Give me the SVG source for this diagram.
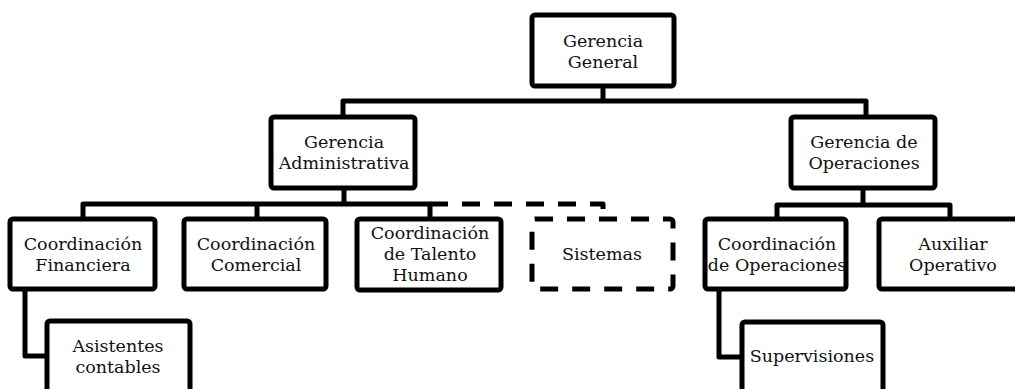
<svg xmlns="http://www.w3.org/2000/svg" width="1015" height="389" viewBox="0 0 1015 389">
  <style>
    .box { fill: #fff; stroke: #000; stroke-width: 5; }
    .dash { stroke-dasharray: 18 14; }
    .wire { fill: none; stroke: #000; stroke-width: 5; stroke-linejoin: round; }
    text { font-family: "DejaVu Serif", "Liberation Serif", serif; font-size: 17.5px; fill: #111; text-anchor: middle; }
  </style>
  <rect width="1015" height="389" fill="#fff"/>

  <!-- connectors -->
  <g id="connectors">
    <path class="wire" d="M603 88 V101 M343 115 V101 H866 V115"/>
    <path class="wire" d="M344 190 V204 M83 217 V204 H430 V217 M257 217 V204"/>
    <path class="wire dash" d="M430 204 H603 V217"/>
    <path class="wire" d="M863 190 V205 M777 217 V205 H950 V217"/>
    <path class="wire" d="M25 290 V356 H46"/>
    <path class="wire" d="M719 290 V357 H741"/>
  </g>

  <g id="gerencia-general">
    <rect class="box" x="532" y="15" width="142" height="71" rx="3"/>
    <text x="603" y="47">Gerencia</text>
    <text x="603" y="68">General</text>
  </g>

  <g id="gerencia-administrativa">
    <rect class="box" x="271" y="117" width="144" height="71" rx="3"/>
    <text x="344" y="148">Gerencia</text>
    <text x="344" y="169">Administrativa</text>
  </g>

  <g id="gerencia-operaciones">
    <rect class="box" x="791" y="117" width="144" height="71" rx="3"/>
    <text x="864" y="148">Gerencia de</text>
    <text x="864" y="169">Operaciones</text>
  </g>

  <g id="coordinacion-financiera">
    <rect class="box" x="10" y="219" width="145" height="70" rx="3"/>
    <text x="83" y="250">Coordinación</text>
    <text x="83" y="271">Financiera</text>
  </g>

  <g id="coordinacion-comercial">
    <rect class="box" x="184" y="219" width="142" height="70" rx="3"/>
    <text x="256" y="250">Coordinación</text>
    <text x="256" y="271">Comercial</text>
  </g>

  <g id="coordinacion-talento-humano">
    <rect class="box" x="357" y="219" width="144" height="71" rx="3"/>
    <text x="430" y="239">Coordinación</text>
    <text x="430" y="260">de Talento</text>
    <text x="430" y="281">Humano</text>
  </g>

  <g id="sistemas">
    <rect class="box dash" x="532" y="219" width="141" height="70" rx="3"/>
    <text x="602" y="260">Sistemas</text>
  </g>

  <g id="coordinacion-operaciones">
    <rect class="box" x="705" y="219" width="141" height="70" rx="3"/>
    <text x="777" y="250">Coordinación</text>
    <text x="777" y="271">de Operaciones</text>
  </g>

  <g id="auxiliar-operativo">
    <rect class="box" x="879" y="219" width="142" height="70" rx="3"/>
    <text x="953" y="250">Auxiliar</text>
    <text x="953" y="271">Operativo</text>
  </g>

  <g id="asistentes-contables">
    <rect class="box" x="47" y="321" width="143" height="90" rx="3"/>
    <text x="118" y="352">Asistentes</text>
    <text x="118" y="373">contables</text>
  </g>

  <g id="supervisiones">
    <rect class="box" x="742" y="322" width="141" height="90" rx="3"/>
    <text x="812" y="362">Supervisiones</text>
  </g>
</svg>
